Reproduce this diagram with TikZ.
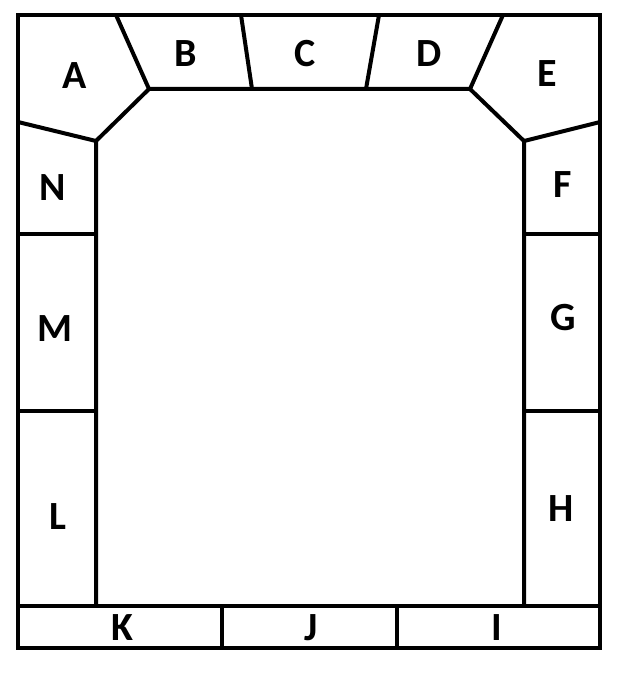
\documentclass[tikz,border=0pt]{standalone}
\usepackage{fontspec}
\setmainfont{Carlito}
\begin{document}
\begin{tikzpicture}[x=1pt,y=-1pt,
  wall/.style={line width=4pt, line join=miter},
  lbl/.style={font=\fontsize{40}{48}\selectfont\bfseries, inner sep=0pt}]
\useasboundingbox (0,0) rectangle (628,674);
% outer frame
\coordinate (tl) at (18,15);
\coordinate (br) at (600,648);
\draw[wall] (tl) rectangle (br);
% inner outline
\coordinate (ibl) at (96,606);
\coordinate (il) at (96,141);
\coordinate (itl) at (149,89);
\coordinate (itr) at (470,89);
\coordinate (ir) at (524,141);
\coordinate (ibr) at (524,606);
\draw[wall] (ibl) -- (il) -- (itl) -- (itr) -- (ir) -- (ibr);
% bottom row line
\coordinate (bl) at (18,606);
\coordinate (brr) at (600,606);
\draw[wall] (bl) -- (brr);
% top dividers
\coordinate (ab) at (116,15);
\coordinate (bc) at (241,15);
\coordinate (bcb) at (252,89);
\coordinate (cd) at (379,15);
\coordinate (cdb) at (366,89);
\coordinate (de) at (503,15);
\draw[wall] (ab) -- (itl);
\draw[wall] (bc) -- (bcb);
\draw[wall] (cd) -- (cdb);
\draw[wall] (de) -- (itr);
% side dividers
\coordinate (an) at (18,122);
\coordinate (ef) at (600,122);
\draw[wall] (an) -- (il);
\draw[wall] (ef) -- (ir);
\draw[wall] (18,234) -- (96,234);
\draw[wall] (524,234) -- (600,234);
\draw[wall] (18,411) -- (96,411);
\draw[wall] (524,411) -- (600,411);
% bottom dividers
\draw[wall] (222,606) -- (222,648);
\draw[wall] (397,606) -- (397,648);
% labels
\node[lbl] (A) at (75,76) {A};
\node[lbl] (B) at (186,54) {B};
\node[lbl] (C) at (305,54) {C};
\node[lbl] (D) at (429,54) {D};
\node[lbl] (E) at (547,74) {E};
\node[lbl] (F) at (563,185) {F};
\node[lbl] (G) at (563,318) {G};
\node[lbl] (H) at (561,509) {H};
\node[lbl] (I) at (497,628) {I};
\node[lbl] (J) at (311,628) {J};
\node[lbl] (K) at (122,628) {K};
\node[lbl] (L) at (58,517) {L};
\node[lbl] (M) at (55,329) {M};
\node[lbl] (N) at (53,188) {N};
\end{tikzpicture}
\end{document}
